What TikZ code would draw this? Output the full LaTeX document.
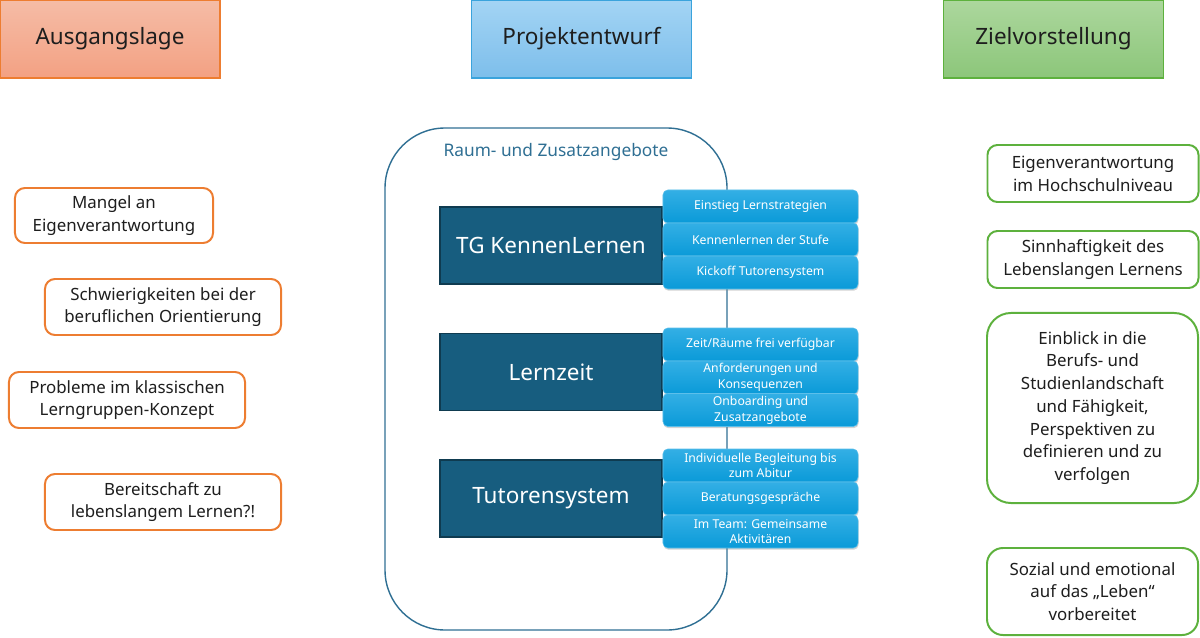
\documentclass[tikz,border=0pt]{standalone}
\usepackage{fontspec}
\setmainfont{Noto Sans}
\usetikzlibrary{shadows}
\definecolor{orangeB}{HTML}{ED7D31}
\definecolor{orangeT}{HTML}{F5BCA6}
\definecolor{orangeU}{HTML}{F3A183}
\definecolor{blueB}{HTML}{3AA3DC}
\definecolor{blueT}{HTML}{A3D4F4}
\definecolor{blueU}{HTML}{7DBEEB}
\definecolor{greenB}{HTML}{5DB13D}
\definecolor{greenT}{HTML}{ACD79D}
\definecolor{greenU}{HTML}{8CC67A}
\definecolor{contB}{HTML}{2F6F93}
\definecolor{darkF}{HTML}{175D7F}
\definecolor{darkB}{HTML}{0F3B50}
\definecolor{subT}{HTML}{33AFE5}
\definecolor{subU}{HTML}{0A9AD8}
\definecolor{txt}{HTML}{1E1E1E}

\begin{document}
\begin{tikzpicture}[x=0.025cm,y=-0.025cm,
  head/.style={draw, line width=1pt, minimum width=5.5cm, minimum height=1.95cm,
    text=txt, font=\fontsize{16}{19}\selectfont},
  prob/.style={draw=orangeB, line width=1.4pt, fill=white, rounded corners=0.25cm,
    minimum width=5.9cm, minimum height=1.4cm, align=center, text=txt,
    font=\fontsize{12}{16.2}\selectfont},
  goal/.style={draw=greenB, line width=1.4pt, fill=white, rounded corners=0.25cm,
    minimum width=5.275cm, minimum height=1.425cm, align=center, text=txt,
    font=\fontsize{12}{16.2}\selectfont},
  topic/.style={draw=darkB, line width=1pt, fill=darkF, text=white,
    minimum width=5.55cm, minimum height=1.925cm, font=\fontsize{16}{19}\selectfont},
  item/.style={top color=subT, bottom color=subU, draw=subT!80!white, line width=0.4pt,
    rounded corners=0.12cm, minimum width=4.875cm, minimum height=0.825cm,
    inner sep=1pt, align=center, text=white, font=\fontsize{8.7}{11.2}\selectfont,
    drop shadow={opacity=0.35, shadow xshift=0.4pt, shadow yshift=-1.2pt}}]
 \useasboundingbox (0,0) rectangle (1200,637);
 % Kopfzeile
 \node[head, draw=orangeB, top color=orangeT, bottom color=orangeU] (ausgang) at (110,39) {Ausgangslage};
 \node[head, draw=blueB, top color=blueT, bottom color=blueU] (entwurf) at (581.5,39) {Projektentwurf};
 \node[head, draw=greenB, top color=greenT, bottom color=greenU] (ziel) at (1053.5,39) {Zielvorstellung};
 % Ausgangslage
 \node[prob, minimum width=4.95cm, minimum height=1.375cm] (mangel) at (114,215.5) {Mangel an\\Eigenverantwortung};
 \node[prob] (schwierig) at (163,307) {Schwierigkeiten bei der\\beruflichen Orientierung};
 \node[prob] (probleme) at (127,400) {Probleme im klassischen\\Lerngruppen-Konzept};
 \node[prob] (bereit) at (163,502) {Bereitschaft zu\\lebenslangem Lernen?!};
 % Projektentwurf
 \draw[contB, line width=1pt, rounded corners=1.5cm] (385,128) rectangle (727,630);
 \node[text=contB, font=\fontsize{12.3}{15}\selectfont] (raum) at (556,152) {Raum- und Zusatzangebote};
 \node[topic] (kennen) at (551,245.5) {TG KennenLernen};
 \node[topic] (lernzeit) at (551,372) {Lernzeit};
 \node[topic] (tutor) at (551,498.5) {Tutorensystem};
 \foreach \y/\n/\t in {206.5/k1/{Einstieg Lernstrategien}, 239.5/k2/{Kennenlernen der Stufe},
   272.5/k3/{Kickoff Tutorensystem}, 344.5/l1/{Zeit/Räume frei verfügbar},
   377.5/l2/{Anforderungen und\\Konsequenzen}, 410/l3/{Onboarding und\\Zusatzangebote},
   465.5/t1/{Individuelle Begleitung bis\\zum Abitur}, 498.5/t2/{Beratungsgespräche},
   531.5/t3/{Im Team: Gemeinsame\\Aktivitären}}
   \node[item] (\n) at (760.5,\y) {\t};
 % Zielvorstellung
 \node[goal] (hochschul) at (1093,173.5) {Eigenverantwortung\\im Hochschulniveau};
 \node[goal] (sinn) at (1093,259.5) {Sinnhaftigkeit des\\Lebenslangen Lernens};
 \node[goal, rounded corners=0.6cm, minimum height=4.75cm] (einblick) at (1092.5,408)
   {Einblick in die\\Berufs- und\\Studienlandschaft\\und Fähigkeit,\\Perspektiven zu\\definieren und zu\\verfolgen};
 \node[goal, rounded corners=0.4cm, minimum height=2.175cm] (sozial) at (1092.5,591.5)
   {Sozial und emotional\\auf das „Leben“\\vorbereitet};
\end{tikzpicture}
\end{document}
